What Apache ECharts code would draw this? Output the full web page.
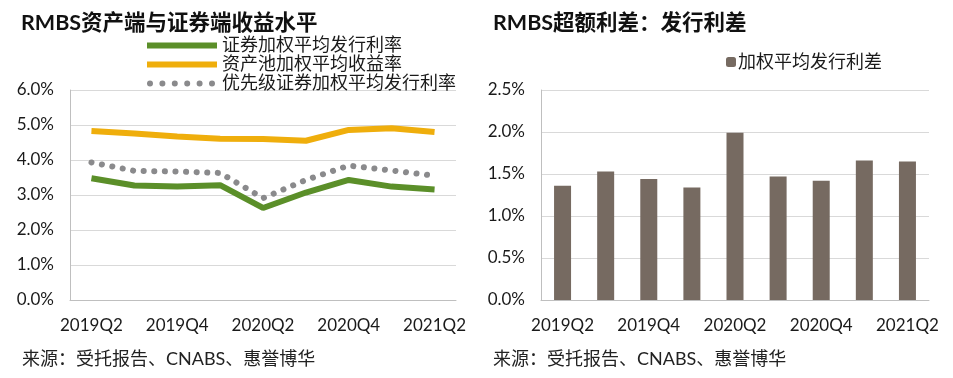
<!DOCTYPE html>
<html>
<head>
<meta charset="utf-8">
<script src="https://cdn.jsdelivr.net/npm/echarts@6/dist/echarts.min.js"></script>
<style>
html,body{margin:0;padding:0;background:#fff;}
#c{width:953px;height:378px;}
</style>
</head>
<body>
<div id="c"></div>
<script>
var categories = ['2019Q2','2019Q3','2019Q4','2020Q1','2020Q2','2020Q3','2020Q4','2021Q1','2021Q2'];
var securityRate = [3.48, 3.27, 3.24, 3.28, 2.63, 3.07, 3.43, 3.24, 3.16];
var assetYield = [4.83, 4.76, 4.67, 4.61, 4.60, 4.55, 4.86, 4.91, 4.80];
var seniorRate = [3.93, 3.69, 3.67, 3.63, 2.91, 3.43, 3.84, 3.70, 3.55];
var spread = [1.36, 1.53, 1.44, 1.34, 1.99, 1.47, 1.42, 1.66, 1.65];
var leftTicks = {min: 0, max: 6, interval: 1};
var rightTicks = {min: 0, max: 2.5, interval: 0.5};

var FONT = "Lato, 'Noto Sans CJK SC', sans-serif";
var chart = echarts.init(document.getElementById('c'), null, {renderer: 'canvas'});

var barIcon = 'path://M0,0 L70,0 L70,6 L0,6 Z';
function dotsPath() {
  var p = '';
  for (var i = 0; i < 6; i++) {
    var cx = 3 + i * 12.4;
    p += 'M' + (cx - 3) + ',3 a3,3 0 1,0 6,0 a3,3 0 1,0 -6,0 ';
  }
  p += 'M0,0 M70,6';
  return 'path://' + p;
}

function yAx(grid, t) {
  return {
    type: 'value', gridIndex: grid, min: t.min, max: t.max, interval: t.interval,
    axisLine: {show: true, lineStyle: {color: '#bfbfbf', width: 1}},
    axisTick: {show: false},
    splitLine: {lineStyle: {color: '#d9d9d9', width: 1}},
    axisLabel: {formatter: function (v) { return v.toFixed(1) + '%'; }, color: '#1a1a1a', fontSize: 17, fontFamily: FONT, margin: 16}
  };
}
function xAx(grid) {
  return {
    type: 'category', gridIndex: grid, data: categories, boundaryGap: true,
    axisLine: {show: true, lineStyle: {color: '#bfbfbf', width: 1}},
    axisTick: {show: false},
    axisLabel: {interval: 1, color: '#1a1a1a', fontSize: 17, fontFamily: FONT, margin: 17}
  };
}

chart.setOption({
  animation: false,
  textStyle: {fontFamily: FONT},
  title: [
    {text: 'RMBS资产端与证券端收益水平', left: 16, top: 7, textStyle: {fontSize: 21.5, fontWeight: 'bold', color: '#111', fontFamily: FONT}},
    {text: 'RMBS超额利差：发行利差', left: 488, top: 7, textStyle: {fontSize: 21.5, fontWeight: 'bold', color: '#111', fontFamily: FONT}},
    {text: '来源：受托报告、CNABS、惠誉博华', left: 17, top: 345, textStyle: {fontSize: 18, fontWeight: 'normal', color: '#222', fontFamily: FONT}},
    {text: '来源：受托报告、CNABS、惠誉博华', left: 488, top: 345, textStyle: {fontSize: 18, fontWeight: 'normal', color: '#222', fontFamily: FONT}}
  ],
  legend: [
    {
      orient: 'vertical', left: 142, top: 31, itemWidth: 70, itemHeight: 6, itemGap: 0,
      data: [
        {name: '证券加权平均发行利率', icon: barIcon},
        {name: '资产池加权平均收益率', icon: barIcon},
        {name: '优先级证券加权平均发行利率', icon: dotsPath()}
      ],
      textStyle: {fontSize: 18, lineHeight: 19, color: '#1a1a1a', fontFamily: FONT, padding: [0, 0, 0, 0]}
    },
    {
      left: 721, top: 48, itemWidth: 10, itemHeight: 10, itemGap: 0,
      data: ['加权平均发行利差'],
      textStyle: {fontSize: 18, color: '#1a1a1a', fontFamily: FONT, padding: [0, 0, 0, -3]}
    }
  ],
  grid: [
    {left: 70, right: 497, top: 90, bottom: 78},
    {left: 541, right: 24, top: 90, bottom: 78}
  ],
  xAxis: [xAx(0), xAx(1)],
  yAxis: [yAx(0, leftTicks), yAx(1, rightTicks)],
  series: [
    {
      name: '证券加权平均发行利率', type: 'line', xAxisIndex: 0, yAxisIndex: 0, data: securityRate,
      symbol: 'none', lineStyle: {color: '#5b8f29', width: 6}, itemStyle: {color: '#5b8f29'}, z: 3
    },
    {
      name: '资产池加权平均收益率', type: 'line', xAxisIndex: 0, yAxisIndex: 0, data: assetYield,
      symbol: 'none', lineStyle: {color: '#efae0c', width: 6}, itemStyle: {color: '#efae0c'}, z: 3
    },
    {
      name: '优先级证券加权平均发行利率', type: 'line', xAxisIndex: 0, yAxisIndex: 0, data: seniorRate,
      symbol: 'none', lineStyle: {color: '#8a8a8c', width: 6, type: [0.1, 10.5], cap: 'round'}, itemStyle: {color: '#8a8a8c'}, z: 2
    },
    {
      name: '加权平均发行利差', type: 'bar', xAxisIndex: 1, yAxisIndex: 1, data: spread,
      barWidth: 17, itemStyle: {color: '#766a61'}
    }
  ]
});
</script>
</body>
</html>
